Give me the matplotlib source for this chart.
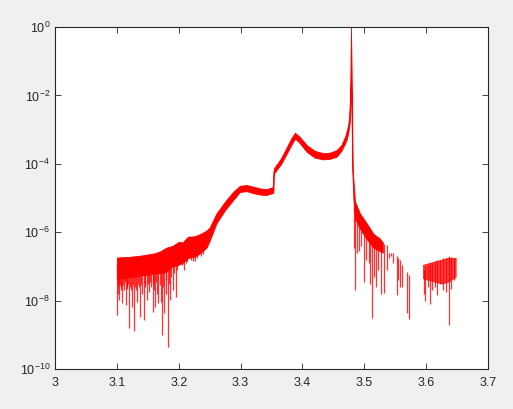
import numpy as np
import matplotlib.pyplot as plt

# --------------------------------------------------------------
# Spectrum on a log scale
# all y values below are log10 of the intensity
# --------------------------------------------------------------

# main band: x, upper edge, lower edge
band_x = [3.100, 3.110, 3.120, 3.130, 3.140, 3.150, 3.160, 3.170, 3.180, 3.190,
          3.200, 3.206, 3.215, 3.225, 3.234, 3.245, 3.250, 3.261, 3.275, 3.288,
          3.299, 3.310, 3.321, 3.332, 3.342, 3.352, 3.353, 3.354, 3.365, 3.375,
          3.382, 3.388, 3.395, 3.407, 3.420, 3.434, 3.445, 3.455, 3.463, 3.469,
          3.472, 3.4745, 3.4765, 3.4775, 3.4785, 3.4795, 3.4805, 3.4815, 3.4825,
          3.485, 3.493, 3.504, 3.515, 3.525, 3.530]
band_top = [-6.74, -6.73, -6.72, -6.70, -6.68, -6.65, -6.62, -6.56, -6.45, -6.40,
            -6.28, -6.30, -6.13, -6.12, -6.06, -5.95, -5.86, -5.45, -5.10, -4.82,
            -4.64, -4.62, -4.67, -4.72, -4.74, -4.68, -4.25, -4.13, -3.85, -3.50,
            -3.25, -3.09, -3.20, -3.45, -3.62, -3.69, -3.67, -3.60, -3.45, -3.20,
            -3.01, -2.80, -2.30, -1.50, 0.00, -1.20, -2.77, -4.27, -4.47,
            -5.10, -5.45, -5.74, -6.05, -6.18, -6.30]
band_bot = [-7.35, -7.35, -7.30, -7.30, -7.25, -7.25, -7.20, -7.20, -7.15, -7.00,
            -6.95, -6.90, -6.75, -6.72, -6.62, -6.45, -6.25, -5.74, -5.35, -5.06,
            -4.82, -4.80, -4.86, -4.90, -4.91, -4.85, -4.85, -4.28, -4.02, -3.69,
            -3.45, -3.26, -3.38, -3.65, -3.82, -3.87, -3.85, -3.79, -3.62, -3.40,
            -3.26, -3.05, -2.80, -2.50, -1.50, -2.50, -4.10, -4.60, -5.06,
            -5.60, -5.90, -6.20, -6.45, -6.55, -6.60]

# right-hand noise patch
tail_x = [3.595, 3.605, 3.615, 3.625, 3.635, 3.6478]
tail_top = [-6.95, -6.90, -6.85, -6.80, -6.75, -6.75]
tail_bot = [-7.35, -7.40, -7.45, -7.50, -7.45, -7.30]

# downward spikes: x, bottom, top
spike_x = [3.1007, 3.1015, 3.1025, 3.1033, 3.104, 3.105, 3.106, 3.1075, 3.109,
           3.1105, 3.112, 3.1135, 3.1147, 3.116, 3.117, 3.1185, 3.120, 3.121,
           3.1225, 3.1244, 3.126, 3.128, 3.1295, 3.131, 3.133, 3.1345, 3.136,
           3.138, 3.1395, 3.141, 3.1438, 3.145, 3.146, 3.148, 3.150, 3.1524,
           3.154, 3.155, 3.1578, 3.159, 3.160, 3.162, 3.1635, 3.165, 3.167,
           3.169, 3.1707, 3.173, 3.175, 3.177, 3.179, 3.180, 3.182, 3.184,
           3.186, 3.188, 3.191, 3.193, 3.1955, 3.198, 3.205, 3.208, 3.211,
           3.213, 3.220, 3.223, 3.226, 3.230, 3.236, 3.240,
           3.4835, 3.4855, 3.488, 3.491, 3.495, 3.499, 3.503, 3.507, 3.510, 3.5125,
           3.516, 3.519, 3.523, 3.527,
           3.532, 3.536, 3.540, 3.543, 3.547, 3.553, 3.555, 3.558, 3.5617, 3.5697,
           3.573,
           3.597, 3.599, 3.603, 3.606, 3.610, 3.614, 3.618, 3.623, 3.628, 3.632,
           3.637, 3.641, 3.645]
spike_lo = [-8.42, -7.60, -7.80, -7.50, -7.98, -7.55, -7.60, -7.70, -8.08,
            -7.55, -7.70, -7.45, -8.13, -7.65, -7.60, -7.50, -8.81, -7.60,
            -7.70, -8.18, -7.55, -8.89, -7.60, -7.70, -8.03, -7.50, -7.60,
            -8.47, -7.55, -7.80, -8.57, -7.50, -7.60, -7.98, -7.50, -7.74,
            -7.45, -7.60, -8.32, -7.50, -7.70, -8.18, -7.45, -7.80, -8.08,
            -7.55, -8.03, -9.00, -7.60, -8.37, -7.80, -7.40, -9.37, -7.50,
            -7.98, -7.30, -7.69, -7.20, -7.88, -7.10, -6.95, -7.10, -6.90,
            -6.85, -6.80, -6.85, -6.85, -6.75, -6.70, -6.65,
            -6.45, -7.69, -6.60, -6.55, -6.40, -7.45, -6.80, -6.90, -7.50, -8.52,
            -7.30, -7.60, -7.10, -7.80,
            -7.79, -7.10, -6.75, -6.70, -6.90, -7.85, -7.40, -7.60, -7.60, -8.35,
            -8.55,
            -7.80, -8.00, -7.60, -8.10, -7.70, -7.60, -7.85, -7.50, -7.70, -7.75,
            -8.70, -7.65, -7.40]
spike_hi = [-6.90] * 60 + [-6.40] * 10 + \
           [-5.20, -5.30, -5.60, -5.55, -5.70, -5.80, -5.75, -5.90, -6.00, -6.10,
            -6.10, -6.15, -6.20, -6.25,
            -6.33, -6.36, -6.60, -6.62, -6.62, -6.70, -6.75, -6.80, -6.95, -7.15,
            -7.25,
            -7.10, -7.00, -6.95, -6.90, -6.90, -6.85, -6.80, -6.80, -6.75, -6.75,
            -6.70, -6.72, -6.75]


plt.rcParams['mathtext.fontset'] = 'custom'
plt.rcParams['mathtext.rm'] = 'Liberation Sans'
plt.rcParams['mathtext.it'] = 'Liberation Sans'
plt.rcParams['font.family'] = 'Liberation Sans'

fig = plt.figure(figsize=(5.13, 4.09), dpi=100, facecolor='#f0f0f0')
ax = fig.add_axes([0.1072, 0.0978, 0.844, 0.836])

red = '#ff0000'
ax.fill_between(band_x, 10.0 ** np.array(band_bot), 10.0 ** np.array(band_top),
                color=red, lw=0.6, edgecolor=red)
ax.fill_between(tail_x, 10.0 ** np.array(tail_bot), 10.0 ** np.array(tail_top),
                color=red, lw=0.6, edgecolor=red, alpha=0.75)
ax.vlines(spike_x, 10.0 ** np.array(spike_lo), 10.0 ** np.array(spike_hi),
          color=red, lw=0.9, alpha=0.8)

ax.set_yscale('log')
ax.set_xlim(3.0, 3.7)
ax.set_ylim(1e-10, 1e0)

ax.set_xticks(np.arange(3.0, 3.71, 0.1))
ax.set_xticklabels(['3', '3.1', '3.2', '3.3', '3.4', '3.5', '3.6', '3.7'])
yt = [1e-10, 1e-8, 1e-6, 1e-4, 1e-2, 1e0]
ax.set_yticks(yt)
ax.set_yticklabels([r'$10^{%d}$' % e for e in (-10, -8, -6, -4, -2, 0)])
ax.minorticks_off()

for s in ax.spines.values():
    s.set_color('#262626')
    s.set_linewidth(0.8)
ax.tick_params(direction='in', length=4, width=0.6, color='#262626',
               labelcolor='#262626', labelsize=9, top=True, right=True)
ax.tick_params(axis='x', pad=6)

fig.savefig('out.png', dpi=100, facecolor=fig.get_facecolor())
